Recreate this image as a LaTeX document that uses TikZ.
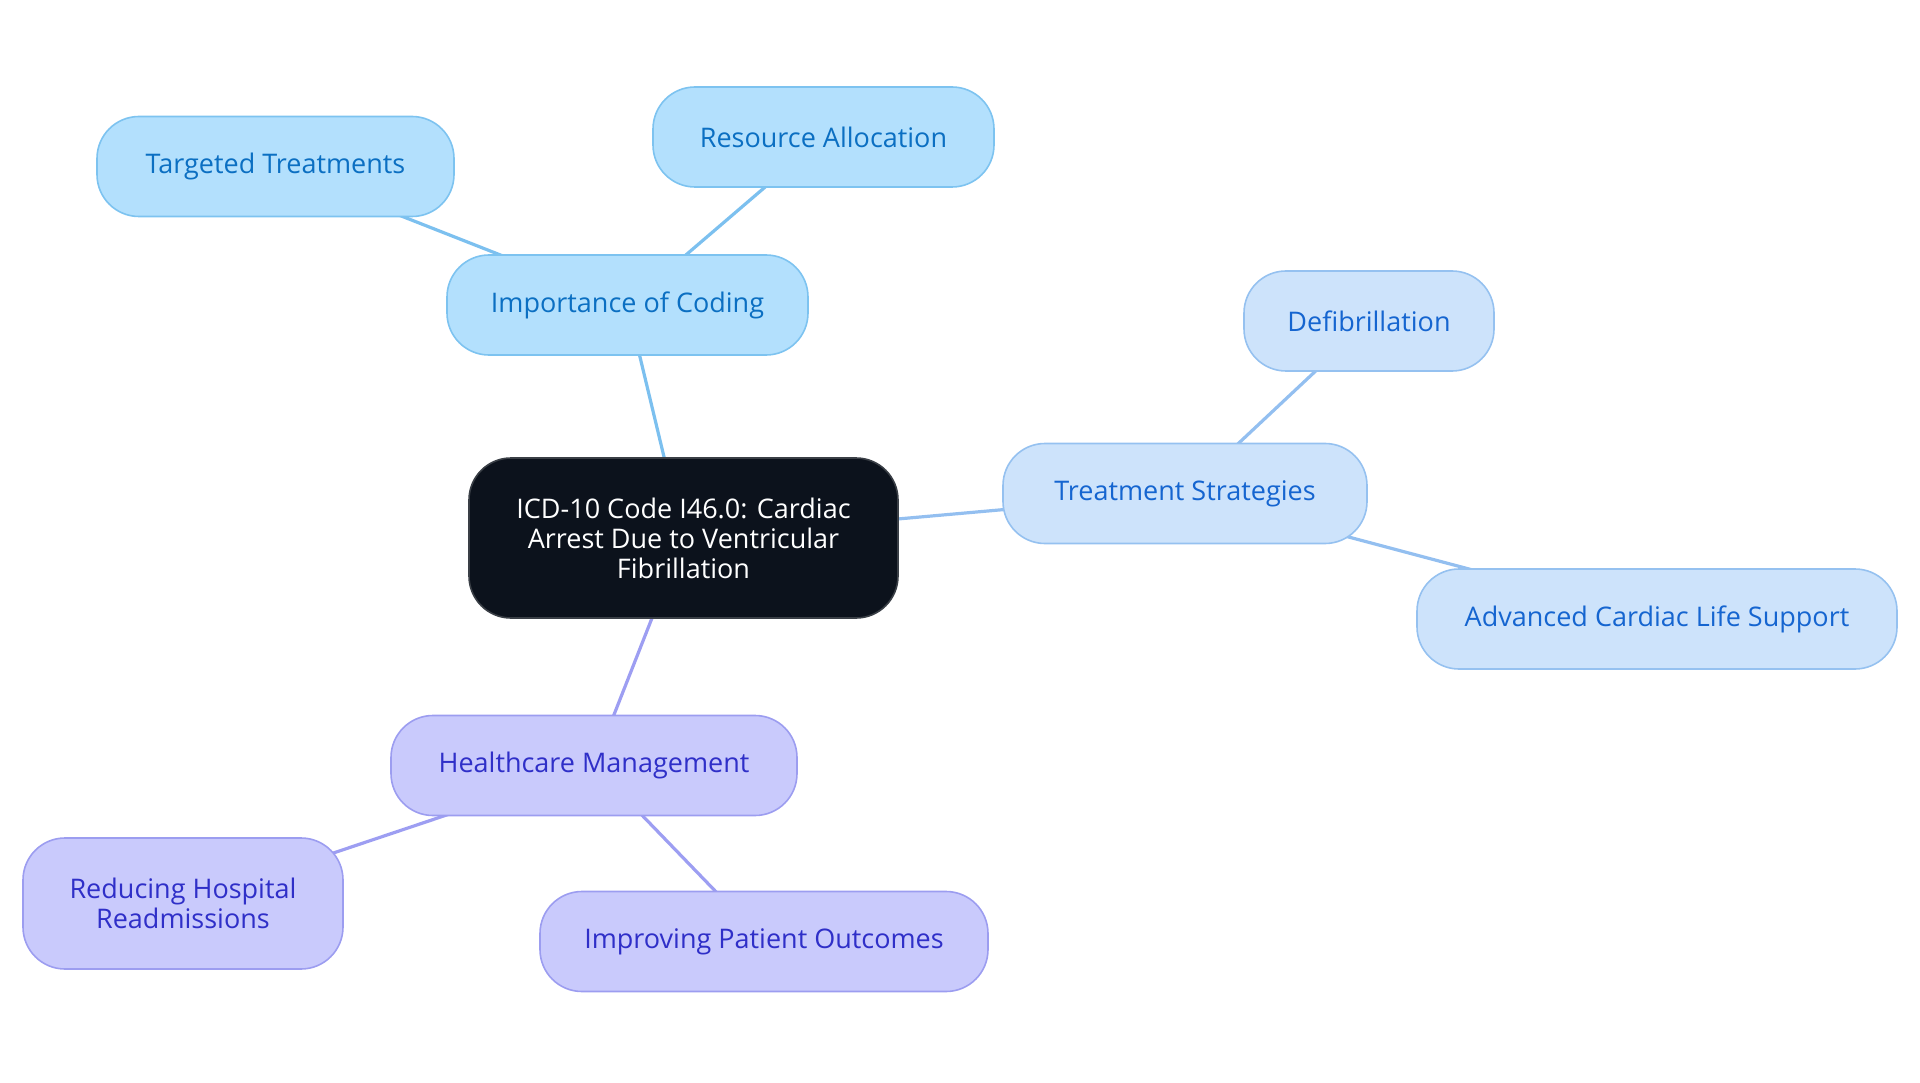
\documentclass[tikz,border=0pt]{standalone}
\usepackage{fontspec}
\setmainfont{Open Sans}
\definecolor{bgA}{HTML}{B3E0FD}
\definecolor{brA}{HTML}{7DC3F0}
\definecolor{txA}{HTML}{0B6FC2}
\definecolor{bgB}{HTML}{CDE3FB}
\definecolor{brB}{HTML}{95C1F0}
\definecolor{txB}{HTML}{1565D0}
\definecolor{bgC}{HTML}{C9CAFC}
\definecolor{brC}{HTML}{9C9DF0}
\definecolor{txC}{HTML}{2F2FC8}
\definecolor{bgM}{HTML}{0C121C}
\definecolor{brM}{HTML}{3A3F46}
\definecolor{lnA}{HTML}{7CC0EF}
\definecolor{lnB}{HTML}{93BFF0}
\definecolor{lnC}{HTML}{9D9EF2}
\pgfdeclarelayer{bg}
\pgfsetlayers{bg,main}
\begin{document}
\begin{tikzpicture}[x=1pt,y=-1pt,
  box/.style={rounded corners=42pt,inner sep=0pt,line width=1.6pt,align=center,
    font=\fontsize{27}{30}\selectfont,minimum height=100pt},
  boxA/.style={box,fill=bgA,draw=brA,text=txA},
  boxB/.style={box,fill=bgB,draw=brB,text=txB},
  boxC/.style={box,fill=bgC,draw=brC,text=txC},
  mainbox/.style={box,fill=bgM,draw=brM,text=white,minimum height=160pt},
  lnk/.style={line width=3.2pt}]
\useasboundingbox (0,0) rectangle (1920,1083);
\node[mainbox,minimum width=429pt] (m) at (683.5,538) {ICD-10 Code I46.0: Cardiac\\Arrest Due to Ventricular\\Fibrillation};
\node[boxA,minimum width=361pt] (imp) at (627.5,305) {Importance of Coding};
\node[boxA,minimum width=357pt] (tt) at (275.5,166.5) {Targeted Treatments};
\node[boxA,minimum width=341pt] (ra) at (823.5,137) {Resource Allocation};
\node[boxB,minimum width=364pt] (ts) at (1185,493.5) {Treatment Strategies};
\node[boxB,minimum width=250pt] (df) at (1369,321) {Defibrillation};
\node[boxB,minimum width=480pt] (acls) at (1657,619) {Advanced Cardiac Life Support};
\node[boxC,minimum width=406pt] (hm) at (594,765.5) {Healthcare Management};
\node[boxC,minimum width=320pt,minimum height=131pt] (rh) at (183,903.5) {Reducing Hospital\\Readmissions};
\node[boxC,minimum width=448pt] (ip) at (764,941.5) {Improving Patient Outcomes};
\begin{pgfonlayer}{bg}
\draw[lnk,lnA] (m.center) -- (imp.center);
\draw[lnk,lnA] (imp.center) -- (tt.center);
\draw[lnk,lnA] (imp.center) -- (ra.center);
\draw[lnk,lnB] (m.center) -- (ts.center);
\draw[lnk,lnB] (ts.center) -- (df.center);
\draw[lnk,lnB] (ts.center) -- (acls.center);
\draw[lnk,lnC] (m.center) -- (hm.center);
\draw[lnk,lnC] (hm.center) -- (rh.center);
\draw[lnk,lnC] (hm.center) -- (ip.center);
\end{pgfonlayer}
\end{tikzpicture}
\end{document}
